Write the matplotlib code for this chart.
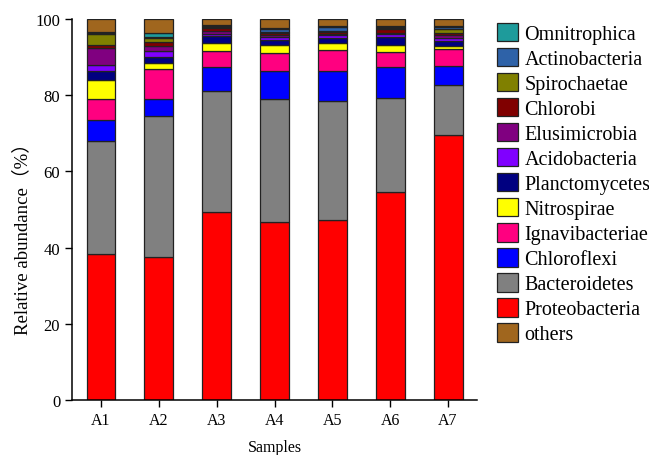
import matplotlib
matplotlib.use("Agg")
import matplotlib.pyplot as plt
import numpy as np
from matplotlib.patches import Patch

plt.rcParams["font.family"] = ["Liberation Serif", "Noto Sans CJK SC"]

samples = ["A1", "A2", "A3", "A4", "A5", "A6", "A7"]

# stacked bottom -> top
proteobacteria = [38.3, 37.5, 49.3, 46.7, 47.2, 54.6, 69.6]
bacteroidetes = [29.7, 37.0, 31.7, 32.3, 31.2, 24.7, 13.1]
chloroflexi = [5.5, 4.5, 6.3, 7.3, 7.9, 8.0, 5.0]
ignavibacteriae = [5.5, 7.9, 4.2, 4.9, 5.5, 4.1, 4.4]
nitrospirae = [5.1, 1.6, 2.1, 2.0, 1.8, 1.9, 0.8]
planctomycetes = [2.2, 1.5, 1.9, 1.4, 1.4, 2.1, 1.3]
acidobacteria = [1.7, 1.6, 0.7, 0.7, 0.7, 0.6, 0.8]
elusimicrobia = [4.3, 1.3, 0.6, 0.4, 0.4, 0.3, 0.8]
chlorobi = [0.9, 1.1, 0.8, 0.6, 0.6, 1.0, 0.5]
spirochaetae = [2.9, 0.9, 0.3, 0.2, 0.2, 0.3, 1.1]
actinobacteria = [0.2, 0.3, 0.3, 1.0, 1.0, 0.3, 0.4]
omnitrophica = [0.2, 1.1, 0.3, 0.2, 0.2, 0.3, 0.3]
others = [3.5, 3.7, 1.5, 2.3, 1.9, 1.8, 1.9]

stack = [
    ("Proteobacteria", proteobacteria, "#ff0000"),
    ("Bacteroidetes", bacteroidetes, "#808080"),
    ("Chloroflexi", chloroflexi, "#0000ff"),
    ("Ignavibacteriae", ignavibacteriae, "#ff0080"),
    ("Nitrospirae", nitrospirae, "#ffff00"),
    ("Planctomycetes", planctomycetes, "#000080"),
    ("Acidobacteria", acidobacteria, "#8000ff"),
    ("Elusimicrobia", elusimicrobia, "#800080"),
    ("Chlorobi", chlorobi, "#800000"),
    ("Spirochaetae", spirochaetae, "#808000"),
    ("Actinobacteria", actinobacteria, "#2e62a8"),
    ("Omnitrophica", omnitrophica, "#1e9b9b"),
    ("others", others, "#a0661e"),
]

fig = plt.figure(figsize=(6.49, 4.56), dpi=100)
ax = fig.add_axes([0.111, 0.121, 0.624, 0.835])

x = np.arange(len(samples))
bottom = np.zeros(len(samples))
for name, vals, color in stack:
    vals = np.array(vals)
    ax.bar(x, vals, bottom=bottom, width=0.5, color=color,
           edgecolor="#222222", linewidth=0.9)
    bottom += vals

ax.set_xlim(-0.5, 6.5)
ax.set_ylim(0, 100)
ax.set_xticks(x)
ax.set_xticklabels(samples, fontsize=11.5)
ax.set_yticks([0, 20, 40, 60, 80, 100])
ax.tick_params(axis="y", labelsize=12, direction="out", length=5, width=1)
ax.tick_params(axis="x", direction="out", length=5, width=1, pad=4)
ax.spines["top"].set_visible(False)
ax.spines["right"].set_visible(False)
for s in ("left", "bottom"):
    ax.spines[s].set_linewidth(1.1)

ax.set_xlabel("Samples", fontsize=11.5)
ax.xaxis.set_label_coords(0.5, -0.102)
ax.set_ylabel("Relative abundance（%）", fontsize=13.5)
ax.yaxis.set_label_coords(-0.10, 0.436)

legend_order = stack[:-1][::-1] + [stack[-1]]
handles = [Patch(facecolor=c, edgecolor="#222222", linewidth=0.9, label=n)
           for n, _, c in legend_order]
ax.legend(handles=handles, loc="upper left", bbox_to_anchor=(1.03, 1.012),
          frameon=False, fontsize=14.5, handlelength=1.05, handleheight=1.05,
          handletextpad=0.3, labelspacing=0.19, borderaxespad=0.0)

fig.savefig("out.png", dpi=100)
